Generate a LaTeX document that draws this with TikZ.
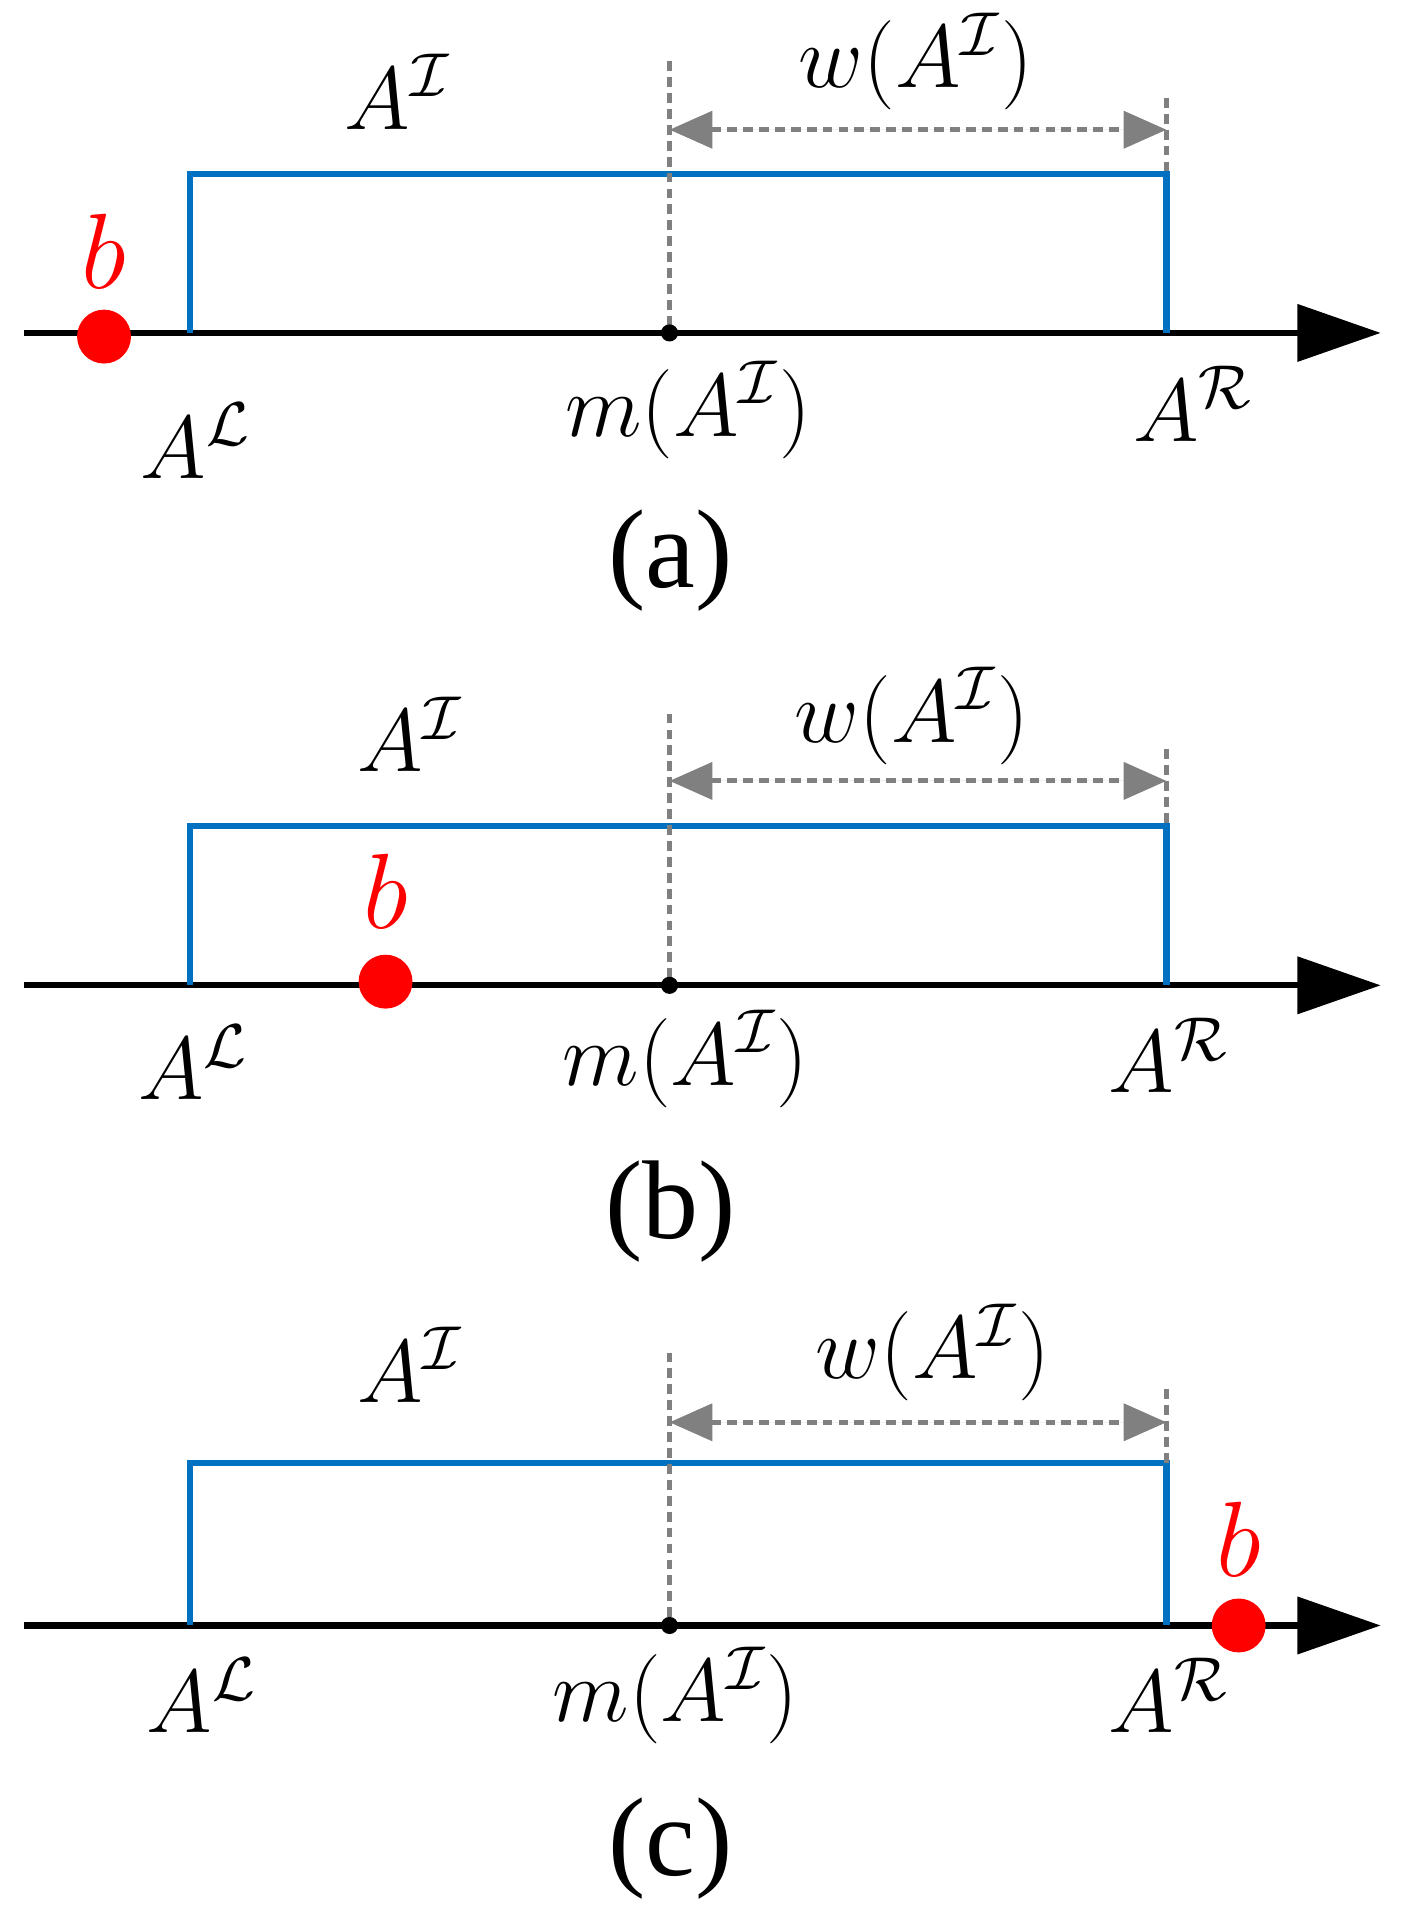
\documentclass[tikz,border=0pt]{standalone}
\usepackage{amsmath}
\usepackage{fontspec}
\newfontfamily\capfont{Liberation Serif}
\usetikzlibrary{arrows.meta}
\begin{document}
\begin{tikzpicture}[x=0.01cm,y=-0.01cm,
 lab/.style={font=\fontsize{22}{25}\selectfont},
 captxt/.style={font=\capfont\fontsize{26}{28}\selectfont},
 axis/.style={line width=0.05cm,-{Triangle[length=0.68cm,width=0.46cm]}},
 blue/.style={draw={rgb,255:red,0;green,112;blue,192},line width=0.05cm},
 gdash/.style={draw={rgb,255:red,128;green,128;blue,128},line width=0.04cm,dash pattern=on 0.08cm off 0.05cm},
 garrow/.style={gdash,{Triangle[length=0.35cm,width=0.3cm]}-{Triangle[length=0.35cm,width=0.3cm]},fill={rgb,255:red,128;green,128;blue,128}},
 bdot/.style={circle,fill=red,inner sep=0,minimum size=0.44cm},
 mdot/.style={circle,fill=black,inner sep=0,minimum size=0.14cm},
 rlab/.style={text=red,font=\fontsize{26}{28}\selectfont}]
\useasboundingbox (0,0) rectangle (1150,1567);
% panel a
\coordinate (s1) at (20,272); \coordinate (e1) at (1128,272);
\draw[axis] (s1) -- (e1);
\draw[blue] (155,272) -- (155,142) -- (953,142) -- (953,272);
\draw[gdash] (547,50) -- (547,272);
\draw[gdash] (953,80) -- (953,142);
\coordinate (p1) at (547,106); \coordinate (q1) at (953,106);
\draw[garrow] (p1) -- (q1);
\node[mdot] (m1) at (547,272) {};
\node[bdot] (b1) at (85,275) {};
\node[rlab] (bl1) at (85,205) {$b$};
\node[lab] (ai1) at (325,75) {$A^{\mathcal{I}}$};
\node[lab] (w1) at (748,50) {$w(A^{\mathcal{I}})$};
\node[lab] (al1) at (160,360) {$A^{\mathcal{L}}$};
\node[lab] (mm1) at (562,335) {$m(A^{\mathcal{I}})$};
\node[lab] (ar1) at (975,330) {$A^{\mathcal{R}}$};
\node[captxt] (c1) at (548,458) {(a)};
% panel b
\coordinate (s2) at (20,805); \coordinate (e2) at (1128,805);
\draw[axis] (s2) -- (e2);
\draw[blue] (155,805) -- (155,675) -- (953,675) -- (953,805);
\draw[gdash] (547,583) -- (547,805);
\draw[gdash] (953,612) -- (953,675);
\coordinate (p2) at (547,638); \coordinate (q2) at (953,638);
\draw[garrow] (p2) -- (q2);
\node[mdot] (m2) at (547,805) {};
\node[bdot] (b2) at (315,802) {};
\node[rlab] (bl2) at (315,728) {$b$};
\node[lab] (ai2) at (335,600) {$A^{\mathcal{I}}$};
\node[lab] (w2) at (745,585) {$w(A^{\mathcal{I}})$};
\node[lab] (al2) at (158,868) {$A^{\mathcal{L}}$};
\node[lab] (mm2) at (560,865) {$m(A^{\mathcal{I}})$};
\node[lab] (ar2) at (955,862) {$A^{\mathcal{R}}$};
\node[captxt] (c2) at (548,990) {(b)};
% panel c
\coordinate (s3) at (20,1328); \coordinate (e3) at (1128,1328);
\draw[axis] (s3) -- (e3);
\draw[blue] (155,1328) -- (155,1195) -- (953,1195) -- (953,1328);
\draw[gdash] (547,1105) -- (547,1328);
\draw[gdash] (953,1135) -- (953,1195);
\coordinate (p3) at (547,1162); \coordinate (q3) at (953,1162);
\draw[garrow] (p3) -- (q3);
\node[mdot] (m3) at (547,1328) {};
\node[bdot] (b3) at (1012,1328) {};
\node[rlab] (bl3) at (1012,1258) {$b$};
\node[lab] (ai3) at (335,1115) {$A^{\mathcal{I}}$};
\node[lab] (w3) at (762,1105) {$w(A^{\mathcal{I}})$};
\node[lab] (al3) at (165,1385) {$A^{\mathcal{L}}$};
\node[lab] (mm3) at (552,1385) {$m(A^{\mathcal{I}})$};
\node[lab] (ar3) at (955,1385) {$A^{\mathcal{R}}$};
\node[captxt] (c3) at (548,1510) {(c)};
\end{tikzpicture}
\end{document}
